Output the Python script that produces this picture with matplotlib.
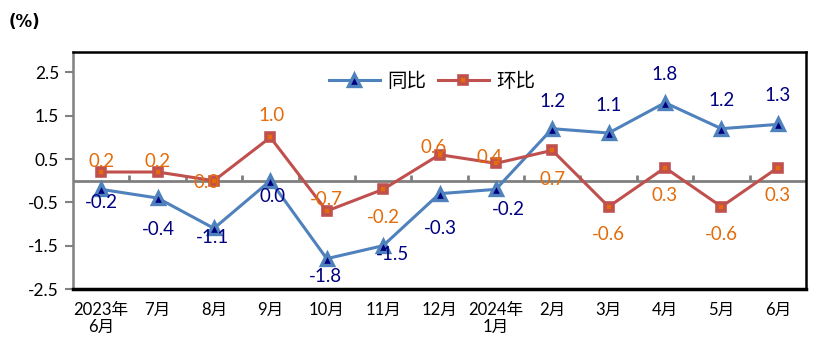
import matplotlib
matplotlib.use("Agg")
import matplotlib.pyplot as plt
from matplotlib.lines import Line2D

plt.rcParams['font.family'] = ['Lato', 'Noto Sans CJK SC', 'DejaVu Sans']

categories = ["2023年\n6月", "7月", "8月", "9月", "10月", "11月", "12月",
              "2024年\n1月", "2月", "3月", "4月", "5月", "6月"]
yoy = [-0.2, -0.4, -1.1, 0.0, -1.8, -1.5, -0.3, -0.2, 1.2, 1.1, 1.8, 1.2, 1.3]
mom = [0.2, 0.2, 0.0, 1.0, -0.7, -0.2, 0.6, 0.4, 0.7, -0.6, 0.3, -0.6, 0.3]
yticks = [-2.5, -1.5, -0.5, 0.5, 1.5, 2.5]

# label offsets in pixels (dx, dy)
yoy_off = [(0, -13), (1, -31), (-1, -9), (2, -16), (-1, -18), (9, -9), (1, -35),
           (12, -20), (0, 27), (0, 28), (0, 28), (0, 28), (0, 29)]
mom_off = [(0, 11), (0, 11), (-7, -2), (1, 22), (0, 12), (0, -28), (-6, 7),
           (-6, 6), (0, -29), (0, -28), (0, -28), (0, -28), (0, -28)]

blue = '#4F81BD'
navy = '#000080'
red = '#C0504D'
orange = '#E46C0A'

fig = plt.figure(figsize=(8.31, 3.52), dpi=100)
ax = fig.add_axes([73/831, 1-289/352, (806-73)/831, (289-52)/352])

x = list(range(len(categories)))
ax.set_xlim(-0.5, len(categories)-0.5)
ax.set_ylim(-2.5, 2.97)

# zero line with boundary ticks
ax.axhline(0, color='#808080', lw=2, zorder=1)
ax.vlines([i + 0.5 for i in x[:-1]], 0, 0.12, color='#808080', lw=2, zorder=1)

yoy_style = dict(color=blue, lw=2.2, marker='^', ms=8, mfc=navy, mec=blue, mew=2.4)
mom_style = dict(color=red, lw=2.2, marker='s', ms=6, mfc=orange, mec=red, mew=2.6)
ax.plot(x, yoy, zorder=3, **yoy_style)
ax.plot(x, mom, zorder=3, **mom_style)

for i, v in enumerate(yoy):
    dx, dy = yoy_off[i]
    ax.annotate(f"{v:.1f}", (i, v), xytext=(dx*0.72, dy*0.72), textcoords='offset points',
                ha='center', va='center', color=navy, fontsize=13.5, zorder=4)
for i, v in enumerate(mom):
    dx, dy = mom_off[i]
    ax.annotate(f"{v:.1f}", (i, v), xytext=(dx*0.72, dy*0.72), textcoords='offset points',
                ha='center', va='center', color=orange, fontsize=13.5, zorder=4)

ax.set_xticks(x)
ax.set_xticklabels(categories, fontsize=12, linespacing=1.1)
ax.tick_params(axis='x', length=0, pad=9)
ax.set_yticks(yticks)
ax.set_yticklabels([f"{t:.1f}" for t in yticks], fontsize=12.5)
ax.tick_params(axis='y', length=6, width=1.5, color='#808080', pad=4)

for s in ['top', 'right']:
    ax.spines[s].set_color('black')
    ax.spines[s].set_linewidth(1.8)
ax.spines['bottom'].set_color('black')
ax.spines['bottom'].set_linewidth(2.5)
ax.spines['left'].set_color('#808080')
ax.spines['left'].set_linewidth(1.8)

handles = [Line2D([], [], **yoy_style), Line2D([], [], **mom_style)]
ax.legend(handles, ['同比', '环比'], loc='upper center', bbox_to_anchor=(0.49, 0.99),
          ncol=2, frameon=False, fontsize=14, handlelength=2.6, columnspacing=0.6,
          handletextpad=0.4)

fig.text(9/831, 1-22/352, "(%)", fontsize=12, fontweight='bold', va='center', ha='left',
         family=['DejaVu Sans'])

fig.savefig("out.png", dpi=100)
